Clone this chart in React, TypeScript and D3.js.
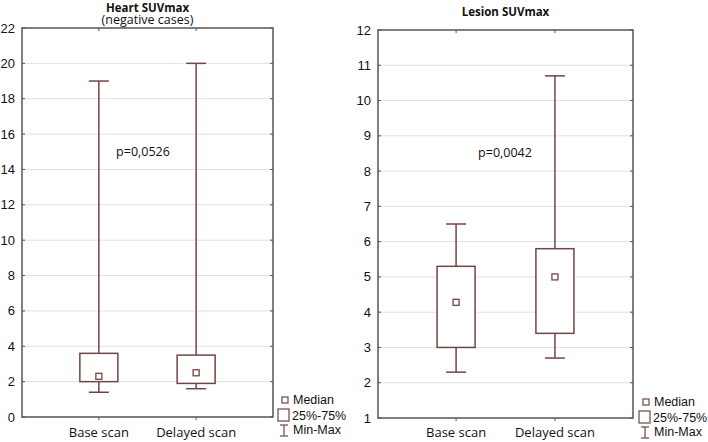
import React from "react";
import * as d3 from "d3";

const categories = ["Base scan", "Delayed scan"];

const heartMin = [1.4, 1.6];
const heartQ1 = [2.0, 1.9];
const heartMedian = [2.3, 2.5];
const heartQ3 = [3.6, 3.5];
const heartMax = [19, 20];
const heartTicks = [0, 2, 4, 6, 8, 10, 12, 14, 16, 18, 20, 22];

const lesionMin = [2.3, 2.7];
const lesionQ1 = [3.0, 3.4];
const lesionMedian = [4.28, 5.0];
const lesionQ3 = [5.3, 5.8];
const lesionMax = [6.5, 10.7];
const lesionTicks = [1, 2, 3, 4, 5, 6, 7, 8, 9, 10, 11, 12];

const BOX = "#744444";
const FRAME = "#555";
const GRID = "#e0e0e0";
const CAL = "'Open Sans', 'Noto Sans', sans-serif";
const ARIAL = "'Liberation Sans', Arial, sans-serif";

type PanelProps = {
  x0: number; x1: number; y0: number; y1: number;
  domain: [number, number]; ticks: number[];
  mins: number[]; q1: number[]; med: number[]; q3: number[]; maxs: number[];
  title: string[]; titleY: number; pText: string; pX: number; pY: number;
  legendX: number; legendY: number;
};

function Panel(p: PanelProps) {
  const y = d3.scaleLinear().domain(p.domain).range([p.y1, p.y0]);
  const band = d3.scalePoint<string>().domain(categories).range([p.x0, p.x1]).padding(0.79);
  const bw = 38;
  const cap = 20;
  const cx = (p.x0 + p.x1) / 2;
  return (
    <g>
      {p.ticks.map((t) => (
        <g key={t}>
          {t !== p.domain[0] && t !== p.domain[1] && (
            <line x1={p.x0} x2={p.x1} y1={y(t)} y2={y(t)} stroke={GRID} strokeWidth={1} />
          )}
          <line x1={p.x0} x2={p.x0 + 3} y1={y(t)} y2={y(t)} stroke={FRAME} />
          <line x1={p.x1} x2={p.x1 - 3} y1={y(t)} y2={y(t)} stroke={FRAME} />
          <text x={p.x0 - 7} y={y(t)} dy="0.35em" textAnchor="end" fontFamily={ARIAL} fontSize={13} fill="#111">
            {t}
          </text>
        </g>
      ))}
      <rect x={p.x0} y={p.y0} width={p.x1 - p.x0} height={p.y1 - p.y0} fill="none" stroke={FRAME} strokeWidth={1.5} />
      {categories.map((c, i) => {
        const xc = band(c)!;
        return (
          <g key={c}>
            <line x1={xc} x2={xc} y1={p.y0} y2={p.y0 + 3} stroke={FRAME} />
            <line x1={xc} x2={xc} y1={p.y1} y2={p.y1 + 3} stroke={FRAME} />
            <line x1={xc} x2={xc} y1={y(p.maxs[i])} y2={y(p.q3[i])} stroke={BOX} strokeWidth={1.5} />
            <line x1={xc} x2={xc} y1={y(p.q1[i])} y2={y(p.mins[i])} stroke={BOX} strokeWidth={1.5} />
            <line x1={xc - cap / 2} x2={xc + cap / 2} y1={y(p.maxs[i])} y2={y(p.maxs[i])} stroke={BOX} strokeWidth={1.5} />
            <line x1={xc - cap / 2} x2={xc + cap / 2} y1={y(p.mins[i])} y2={y(p.mins[i])} stroke={BOX} strokeWidth={1.5} />
            <rect x={xc - bw / 2} y={y(p.q3[i])} width={bw} height={y(p.q1[i]) - y(p.q3[i])} fill="white" stroke={BOX} strokeWidth={1.5} />
            <rect x={xc - 3} y={y(p.med[i]) - 3} width={6} height={6} fill="white" stroke={BOX} strokeWidth={1.3} />
            <text x={xc} y={437} textAnchor="middle" fontFamily={CAL} fontSize={13} fill="#111">
              {c}
            </text>
          </g>
        );
      })}
      {p.title.map((t, i) => (
        <text key={t} x={cx} y={p.titleY + i * 11.5} textAnchor="middle" fontFamily={CAL} fontSize={i === 0 ? 11.5 : 12.5} fontWeight={i === 0 ? "bold" : "normal"} fill="#111">
          {t}
        </text>
      ))}
      <text x={p.pX} y={p.pY} textAnchor="middle" fontFamily={CAL} fontSize={12.5} fill="#111">
        {p.pText}
      </text>
      <g transform={`translate(${p.legendX},${p.legendY})`} fontFamily={ARIAL} fontSize={12.5} fill="#111">
        <rect x={3} y={-3} width={6} height={6} fill="white" stroke={BOX} strokeWidth={1.2} />
        <text x={14} y={0} dy="0.35em">Median</text>
        <rect x={-1} y={9} width={11} height={12} fill="white" stroke={BOX} strokeWidth={1.2} />
        <text x={13} y={15.5} dy="0.35em">25%-75%</text>
        <line x1={5} x2={5} y1={25} y2={36} stroke={BOX} strokeWidth={1.2} />
        <line x1={1} x2={9} y1={25} y2={25} stroke={BOX} strokeWidth={1.2} />
        <line x1={1} x2={9} y1={36} y2={36} stroke={BOX} strokeWidth={1.2} />
        <text x={14} y={30} dy="0.35em">Min-Max</text>
      </g>
    </g>
  );
}

export default function App() {
  return (
    <svg width={708} height={442} style={{ position: "absolute", left: 0, top: 0, background: "white" }}>
      <Panel
        x0={22} x1={273} y0={28} y1={417}
        domain={[0, 22]} ticks={heartTicks}
        mins={heartMin} q1={heartQ1} med={heartMedian} q3={heartQ3} maxs={heartMax}
        title={["Heart SUVmax", "(negative cases)"]} titleY={12}
        pText="p=0,0526" pX={143} pY={156}
        legendX={279} legendY={400}
      />
      <Panel
        x0={378} x1={633} y0={30} y1={418}
        domain={[1, 12]} ticks={lesionTicks}
        mins={lesionMin} q1={lesionQ1} med={lesionMedian} q3={lesionQ3} maxs={lesionMax}
        title={["Lesion SUVmax"]} titleY={16}
        pText="p=0,0042" pX={505} pY={157}
        legendX={640} legendY={402}
      />
    </svg>
  );
}
